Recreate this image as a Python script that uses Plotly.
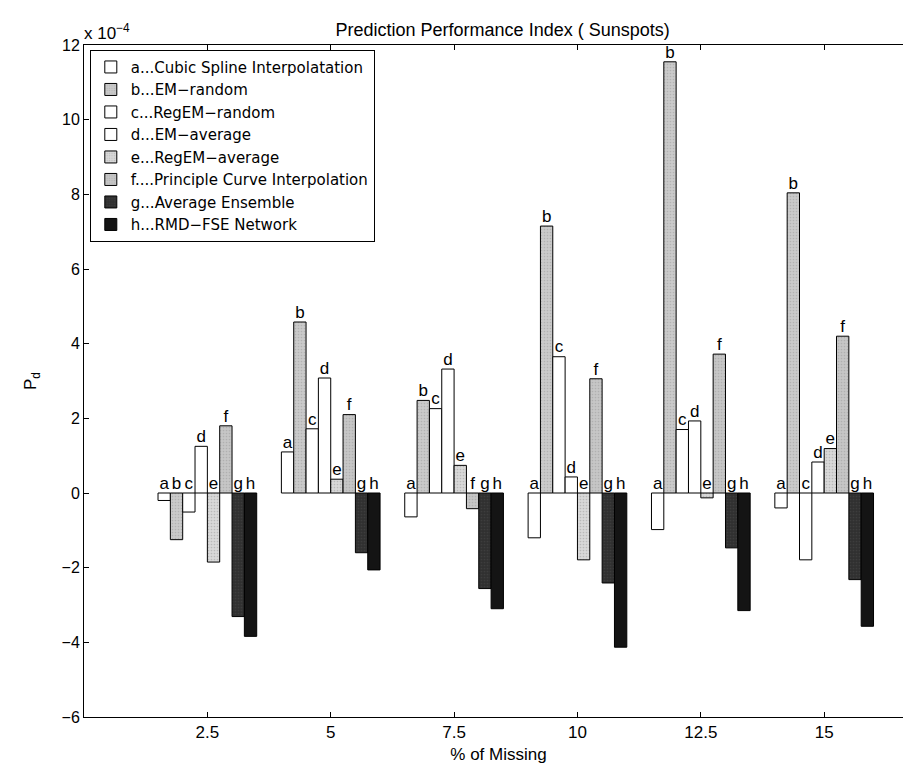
import plotly.graph_objects as go

groups = [1, 2, 3, 4, 5, 6]
tick_labels = ["2.5", "5", "7.5", "10", "12.5", "15"]

letters = ["a", "b", "c", "d", "e", "f", "g", "h"]
names = [
    "a...Cubic Spline Interpolatation",
    "b...EM\u2212random",
    "c...RegEM\u2212random",
    "d...EM\u2212average",
    "e...RegEM\u2212average",
    "f....Principle Curve Interpolation",
    "g...Average Ensemble",
    "h...RMD\u2212FSE Network",
]

a_vals = [-0.20, 1.10, -0.64, -1.20, -0.98, -0.40]
b_vals = [-1.25, 4.58, 2.48, 7.15, 11.55, 8.04]
c_vals = [-0.51, 1.72, 2.26, 3.65, 1.70, -1.79]
d_vals = [1.25, 3.08, 3.32, 0.43, 1.93, 0.83]
e_vals = [-1.85, 0.37, 0.74, -1.79, -0.13, 1.19]
f_vals = [1.80, 2.10, -0.42, 3.06, 3.72, 4.20]
g_vals = [-3.31, -1.60, -2.56, -2.41, -1.47, -2.32]
h_vals = [-3.84, -2.06, -3.10, -4.13, -3.15, -3.57]

series = [a_vals, b_vals, c_vals, d_vals, e_vals, f_vals, g_vals, h_vals]
colors = ["#ffffff", "#cacaca", "#ffffff", "#ffffff", "#d8d8d8", "#c6c6c6", "#303030", "#141414"]
dotted = [False, True, False, False, True, True, True, False]

FONT = "Liberation Sans, Arial, Helvetica, sans-serif"
LEGEND_FONT = "DejaVu Sans, Liberation Sans, Arial, sans-serif"
n = len(series)
group_width = 0.8
bw = group_width / n

fig = go.Figure()
for i, (vals, col, nm, dt) in enumerate(zip(series, colors, names, dotted)):
    marker = dict(color=col, line=dict(color="#000000", width=1))
    if dt:
        marker["pattern"] = dict(shape=".", size=3, solidity=0.25,
                                 fgcolor="#9a9a9a" if i != 6 else "#4a4a4a",
                                 bgcolor=col, fillmode="overlay")
    fig.add_trace(go.Bar(x=groups, y=vals, name=nm, marker=marker))

# letter labels above each bar (or above the baseline for negative bars)
for i, (vals, let) in enumerate(zip(series, letters)):
    xs = [g + (i - (n - 1) / 2) * bw for g in groups]
    ys = [max(v, 0) for v in vals]
    fig.add_trace(go.Scatter(
        x=xs, y=ys, mode="text", text=[let] * len(vals),
        textposition="top center", showlegend=False, hoverinfo="skip",
        textfont=dict(family=FONT, size=17, color="#000000"),
        cliponaxis=False,
    ))

fig.update_layout(
    width=911, height=765,
    margin=dict(l=76, r=6, t=37, b=56),
    paper_bgcolor="white", plot_bgcolor="white",
    barmode="group", bargap=1 - group_width, bargroupgap=0,
    font=dict(family=FONT, size=16, color="#000000"),
    title=dict(text="Prediction Performance Index ( Sunspots)", x=0.505, xref="paper",
               y=1 - 22 / 765, yanchor="middle", font=dict(size=18)),
    showlegend=True,
    legend=dict(x=0.007, y=0.993, xanchor="left", yanchor="top",
                bordercolor="#000000", borderwidth=1, bgcolor="white",
                font=dict(family=LEGEND_FONT, size=15), tracegroupgap=0),
    xaxis=dict(range=[0, 6.72], tickvals=groups, ticktext=tick_labels,
               showline=True, linecolor="#000000", linewidth=1, mirror="ticks",
               ticks="inside", ticklen=5, tickcolor="#000000",
               showgrid=False, zeroline=False, tickfont=dict(size=17),
               title=dict(text="% of Missing", font=dict(size=17), standoff=6)),
    yaxis=dict(range=[-6, 12], tickvals=list(range(-6, 13, 2)),
               showline=True, linecolor="#000000", linewidth=1, mirror="ticks",
               ticks="inside", ticklen=5, tickcolor="#000000",
               showgrid=False, zeroline=False, tickfont=dict(size=16),
               title=dict(text="P<sub>d</sub>", font=dict(size=17), standoff=20)),
)

fig.add_annotation(text="x 10<sup>\u22124</sup>", xref="paper", yref="paper",
                   x=0, y=1, xanchor="left", yanchor="bottom", xshift=-2, yshift=0,
                   showarrow=False, font=dict(size=17))

fig.write_html("out.html")
